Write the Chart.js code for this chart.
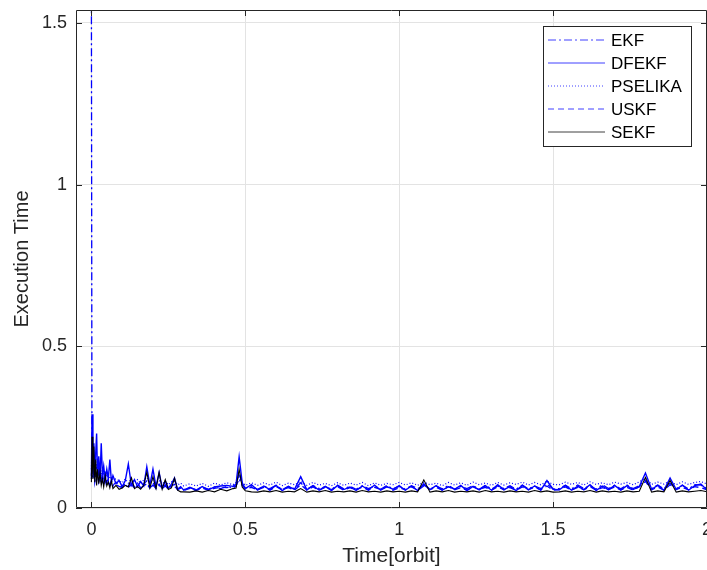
<!DOCTYPE html>
<html>
<head>
<meta charset="utf-8">
<script src="https://cdn.jsdelivr.net/npm/chart.js@4/dist/chart.umd.min.js"></script>
<style>
  html, body { margin: 0; padding: 0; background: #fff; }
  #wrap { width: 707px; height: 570px; overflow: hidden; }
</style>
</head>
<body>
<div id="wrap"><canvas id="chart" width="707" height="570"></canvas></div>
<script>
// time axis, in orbits
var timeOrbit = [
  0, 0.002, 0.005, 0.008, 0.011, 0.014, 0.017, 0.02, 0.024, 0.028, 0.032, 0.036, 0.04, 0.045, 0.05, 0.055, 0.06, 0.065, 0.07, 0.08, 0.09,
  0.1, 0.11, 0.12, 0.13, 0.14, 0.15, 0.16, 0.17, 0.18, 0.19, 0.2, 0.21, 0.22, 0.23, 0.24, 0.25, 0.26, 0.27, 0.28, 0.29, 0.3,
  0.32, 0.34, 0.36, 0.38, 0.4, 0.42, 0.44, 0.46, 0.47, 0.48, 0.49, 0.5, 0.52,
  0.54, 0.56, 0.58, 0.6, 0.62, 0.64, 0.66, 0.68, 0.7, 0.72, 0.74, 0.76, 0.78, 0.8, 0.82, 0.84, 0.86, 0.88, 0.9, 0.92, 0.94, 0.96, 0.98, 1,
  1.02, 1.04, 1.06, 1.08, 1.1, 1.12, 1.14, 1.16, 1.18, 1.2, 1.22, 1.24, 1.26, 1.28, 1.3, 1.32, 1.34, 1.36, 1.38, 1.4, 1.42, 1.44, 1.46, 1.48, 1.5,
  1.52, 1.54, 1.56, 1.58, 1.6, 1.62, 1.64, 1.66, 1.68, 1.7, 1.72, 1.74, 1.76, 1.78, 1.8, 1.82, 1.84, 1.86, 1.88, 1.9, 1.92, 1.94, 1.96, 1.98, 2
];

var ekfTime = [
  1.62, 0.1, 0.09, 0.12, 0.08, 0.1, 0.085, 0.11, 0.08, 0.095, 0.078, 0.09, 0.075, 0.085, 0.072, 0.08, 0.07, 0.078, 0.068, 0.072, 0.067,
  0.063, 0.072, 0.062, 0.074, 0.061, 0.07, 0.062, 0.069, 0.075, 0.061, 0.071, 0.06, 0.07, 0.06, 0.068, 0.059, 0.066, 0.067, 0.058, 0.064, 0.057,
  0.063, 0.057, 0.064, 0.058, 0.065, 0.06, 0.067, 0.062, 0.068, 0.09, 0.07, 0.061, 0.068,
  0.058, 0.068, 0.06, 0.07, 0.057, 0.067, 0.059, 0.078, 0.058, 0.069, 0.06, 0.066, 0.058, 0.07, 0.059, 0.067, 0.058, 0.069, 0.06, 0.068, 0.058, 0.07, 0.059, 0.067,
  0.058, 0.069, 0.06, 0.071, 0.058, 0.068, 0.059, 0.07, 0.058, 0.067, 0.06, 0.069, 0.058, 0.07, 0.059, 0.068, 0.06, 0.069, 0.058, 0.071, 0.059, 0.068, 0.06, 0.074, 0.059,
  0.06, 0.07, 0.059, 0.071, 0.06, 0.069, 0.058, 0.072, 0.06, 0.07, 0.059, 0.071, 0.06, 0.069, 0.086, 0.06, 0.071, 0.059, 0.077, 0.06, 0.07, 0.059, 0.072, 0.071, 0.06
];

var dfekfTime = [
  0.1, 0.29, 0.12, 0.2, 0.1, 0.17, 0.23, 0.1, 0.16, 0.09, 0.2, 0.1, 0.13, 0.085, 0.12, 0.09, 0.15, 0.08, 0.1, 0.075, 0.085,
  0.066, 0.084, 0.136, 0.07, 0.088, 0.066, 0.082, 0.068, 0.127, 0.07, 0.12, 0.066, 0.11, 0.064, 0.083, 0.061, 0.074, 0.093, 0.058, 0.066, 0.055,
  0.064, 0.055, 0.066, 0.056, 0.065, 0.068, 0.07, 0.067, 0.074, 0.158, 0.078, 0.06, 0.072,
  0.055, 0.068, 0.057, 0.07, 0.054, 0.066, 0.058, 0.097, 0.056, 0.069, 0.055, 0.067, 0.054, 0.07, 0.057, 0.065, 0.054, 0.068, 0.056, 0.071, 0.055, 0.066, 0.058, 0.069,
  0.055, 0.068, 0.054, 0.075, 0.057, 0.069, 0.055, 0.066, 0.058, 0.07, 0.054, 0.067, 0.056, 0.069, 0.055, 0.072, 0.057, 0.066, 0.054, 0.07, 0.056, 0.068, 0.055, 0.085, 0.058,
  0.056, 0.07, 0.055, 0.067, 0.057, 0.072, 0.054, 0.068, 0.056, 0.07, 0.055, 0.069, 0.057, 0.066, 0.108, 0.058, 0.07, 0.055, 0.093, 0.057, 0.071, 0.055, 0.069, 0.074, 0.056
];

var pselikaTime = [
  0.12, 0.2, 0.14, 0.18, 0.12, 0.16, 0.12, 0.14, 0.11, 0.13, 0.1, 0.12, 0.1, 0.11, 0.095, 0.1, 0.09, 0.095, 0.088, 0.09, 0.085,
  0.078, 0.09, 0.077, 0.092, 0.079, 0.088, 0.076, 0.087, 0.094, 0.077, 0.089, 0.075, 0.086, 0.074, 0.084, 0.072, 0.081, 0.082, 0.071, 0.077, 0.068,
  0.075, 0.068, 0.076, 0.067, 0.077, 0.071, 0.078, 0.072, 0.079, 0.1, 0.081, 0.07, 0.078,
  0.07, 0.078, 0.071, 0.08, 0.069, 0.077, 0.072, 0.082, 0.07, 0.079, 0.071, 0.076, 0.069, 0.078, 0.07, 0.077, 0.071, 0.079, 0.069, 0.078, 0.07, 0.076, 0.072, 0.079,
  0.071, 0.078, 0.07, 0.08, 0.072, 0.077, 0.069, 0.079, 0.071, 0.078, 0.07, 0.08, 0.072, 0.077, 0.07, 0.079, 0.071, 0.078, 0.073, 0.08, 0.071, 0.079, 0.072, 0.083, 0.073,
  0.072, 0.08, 0.073, 0.079, 0.071, 0.081, 0.073, 0.078, 0.072, 0.08, 0.074, 0.079, 0.072, 0.081, 0.092, 0.073, 0.08, 0.074, 0.083, 0.072, 0.081, 0.073, 0.079, 0.082, 0.074
];

var uskfTime = [
  0.09, 0.17, 0.1, 0.14, 0.09, 0.12, 0.1, 0.15, 0.09, 0.12, 0.085, 0.11, 0.08, 0.1, 0.08, 0.09, 0.075, 0.085, 0.07, 0.08, 0.072,
  0.064, 0.076, 0.066, 0.084, 0.064, 0.077, 0.062, 0.074, 0.084, 0.062, 0.079, 0.061, 0.074, 0.06, 0.072, 0.058, 0.068, 0.073, 0.056, 0.062, 0.054,
  0.061, 0.054, 0.062, 0.055, 0.061, 0.064, 0.063, 0.066, 0.068, 0.11, 0.072, 0.058, 0.064,
  0.056, 0.064, 0.055, 0.066, 0.057, 0.063, 0.055, 0.072, 0.056, 0.065, 0.055, 0.064, 0.057, 0.066, 0.055, 0.063, 0.056, 0.065, 0.055, 0.064, 0.057, 0.066, 0.055, 0.063,
  0.056, 0.065, 0.055, 0.068, 0.057, 0.064, 0.055, 0.066, 0.056, 0.063, 0.055, 0.065, 0.057, 0.064, 0.055, 0.066, 0.056, 0.063, 0.055, 0.065, 0.057, 0.064, 0.056, 0.068, 0.055,
  0.057, 0.065, 0.055, 0.064, 0.056, 0.066, 0.055, 0.063, 0.057, 0.065, 0.056, 0.064, 0.055, 0.066, 0.082, 0.056, 0.065, 0.055, 0.072, 0.057, 0.064, 0.056, 0.066, 0.063, 0.056
];

var sekfTime = [
  0.08, 0.22, 0.09, 0.19, 0.08, 0.15, 0.07, 0.12, 0.075, 0.11, 0.07, 0.09, 0.065, 0.1, 0.068, 0.08, 0.062, 0.085, 0.06, 0.07, 0.058,
  0.062, 0.07, 0.065, 0.093, 0.06, 0.066, 0.058, 0.07, 0.11, 0.062, 0.097, 0.06, 0.11, 0.058, 0.088, 0.057, 0.062, 0.092, 0.055, 0.05, 0.05,
  0.049, 0.053, 0.049, 0.054, 0.05, 0.058, 0.053, 0.06, 0.062, 0.12, 0.065, 0.053, 0.05,
  0.049, 0.053, 0.05, 0.054, 0.049, 0.052, 0.05, 0.06, 0.049, 0.053, 0.05, 0.054, 0.049, 0.052, 0.05, 0.053, 0.049, 0.054, 0.05, 0.052, 0.049, 0.053, 0.05, 0.052,
  0.049, 0.053, 0.05, 0.087, 0.049, 0.053, 0.05, 0.054, 0.049, 0.052, 0.05, 0.053, 0.049, 0.054, 0.05, 0.052, 0.049, 0.053, 0.05, 0.052, 0.049, 0.054, 0.05, 0.053, 0.049,
  0.05, 0.053, 0.049, 0.052, 0.05, 0.054, 0.049, 0.053, 0.05, 0.052, 0.049, 0.053, 0.05, 0.052, 0.095, 0.049, 0.053, 0.05, 0.085, 0.049, 0.053, 0.05, 0.052, 0.054, 0.05
];

var seriesNames = ['EKF', 'DFEKF', 'PSELIKA', 'USKF', 'SEKF'];
var seriesColors = ['#0000ff', '#0000ff', '#0000ff', '#0000ff', '#000000'];
var seriesWidths = [1.3, 1.4, 1.2, 1.3, 1.1];
var seriesDashes = [[8, 3, 2, 3], [], [1, 2], [6, 4], []];
var xTicks = [0, 0.5, 1, 1.5, 2];
var yTicks = [0, 0.5, 1, 1.5];

var AXIS_GREY = '#262626';
var FONT_FAMILY = '"Liberation Sans", Arial, sans-serif';

function toPoints(values) {
  return values.map(function (v, i) {
    return { x: timeOrbit[i], y: v };
  });
}

function lineSet(i, values, order) {
  return {
    label: seriesNames[i],
    data: toPoints(values),
    borderColor: seriesColors[i],
    borderWidth: seriesWidths[i],
    borderDash: seriesDashes[i],
    pointRadius: 0,
    tension: 0,
    fill: false,
    order: order
  };
}

// box, inward ticks and the framed legend, matlab style
var matlabFrame = {
  id: 'matlabFrame',
  afterDatasetsDraw: function (chart) {
    var ctx = chart.ctx;
    var area = chart.chartArea;
    var xs = chart.scales.x;
    var ys = chart.scales.y;

    ctx.save();
    ctx.strokeStyle = AXIS_GREY;
    ctx.lineWidth = 1;
    ctx.setLineDash([]);
    ctx.beginPath();
    ctx.rect(area.left + 0.5, area.top + 0.5, area.right - area.left - 1, area.bottom - area.top - 1);
    xTicks.forEach(function (v) {
      var px = Math.round(xs.getPixelForValue(v)) + 0.5;
      ctx.moveTo(px, area.bottom);
      ctx.lineTo(px, area.bottom - 6);
      ctx.moveTo(px, area.top);
      ctx.lineTo(px, area.top + 6);
    });
    yTicks.forEach(function (v) {
      var py = Math.round(ys.getPixelForValue(v)) + 0.5;
      ctx.moveTo(area.left, py);
      ctx.lineTo(area.left + 6, py);
      ctx.moveTo(area.right, py);
      ctx.lineTo(area.right - 6, py);
    });
    ctx.stroke();

    // legend
    var boxL = 543, boxT = 26, boxW = 148, boxH = 120;
    ctx.fillStyle = '#fff';
    ctx.fillRect(boxL, boxT, boxW, boxH);
    ctx.strokeStyle = AXIS_GREY;
    ctx.strokeRect(boxL + 0.5, boxT + 0.5, boxW, boxH);

    ctx.font = '17px ' + FONT_FAMILY;
    ctx.textBaseline = 'middle';
    ctx.textAlign = 'left';
    for (var i = 0; i < seriesNames.length; i++) {
      var y = Math.round(40 + i * 23.1);
      ctx.beginPath();
      ctx.setLineDash(seriesDashes[i]);
      ctx.strokeStyle = seriesColors[i];
      ctx.globalAlpha = 0.75;
      ctx.lineWidth = 1;
      ctx.moveTo(548, y);
      ctx.lineTo(605, y);
      ctx.stroke();
      ctx.globalAlpha = 1;
      ctx.setLineDash([]);
      ctx.fillStyle = '#000';
      ctx.fillText(seriesNames[i], 611, y + 1);
    }
    ctx.restore();
  }
};

var chartEl = document.getElementById('chart');
new Chart(chartEl, {
  type: 'line',
  data: {
    datasets: [
      lineSet(0, ekfTime, 5),
      lineSet(1, dfekfTime, 4),
      lineSet(2, pselikaTime, 3),
      lineSet(3, uskfTime, 2),
      lineSet(4, sekfTime, 1)
    ]
  },
  options: {
    responsive: false,
    animation: false,
    devicePixelRatio: 1,
    layout: { padding: { top: 10, right: -1, left: 0, bottom: 0 } },
    plugins: {
      legend: { display: false },
      tooltip: { enabled: false }
    },
    scales: {
      x: {
        type: 'linear',
        min: -0.05,
        max: 2,
        afterBuildTicks: function (scale) {
          scale.ticks = xTicks.map(function (v) { return { value: v }; });
        },
        afterFit: function (scale) {
          scale.height = 62;
          scale.paddingLeft = 0;
          scale.paddingRight = 0;
        },
        grid: { color: '#e3e3e3', drawTicks: false },
        border: { display: false },
        ticks: {
          color: AXIS_GREY,
          padding: 11,
          maxRotation: 0,
          font: { family: FONT_FAMILY, size: 18 },
          callback: function (v) { return String(v); }
        },
        title: {
          display: true,
          text: 'Time[orbit]',
          color: AXIS_GREY,
          padding: { top: 0, bottom: 1 },
          font: { family: FONT_FAMILY, size: 21 }
        }
      },
      y: {
        type: 'linear',
        min: 0,
        max: 1.54,
        afterBuildTicks: function (scale) {
          scale.ticks = yTicks.map(function (v) { return { value: v }; });
        },
        afterFit: function (scale) {
          scale.width = 76;
          scale.paddingTop = 0;
          scale.paddingBottom = 0;
        },
        grid: { color: '#e3e3e3', drawTicks: false },
        border: { display: false },
        ticks: {
          color: AXIS_GREY,
          padding: 9,
          font: { family: FONT_FAMILY, size: 18 },
          callback: function (v) { return String(v); }
        },
        title: {
          display: true,
          text: 'Execution Time',
          color: AXIS_GREY,
          padding: { top: 10, bottom: 0 },
          font: { family: FONT_FAMILY, size: 20 }
        }
      }
    }
  },
  plugins: [matlabFrame]
});
</script>
</body>
</html>
